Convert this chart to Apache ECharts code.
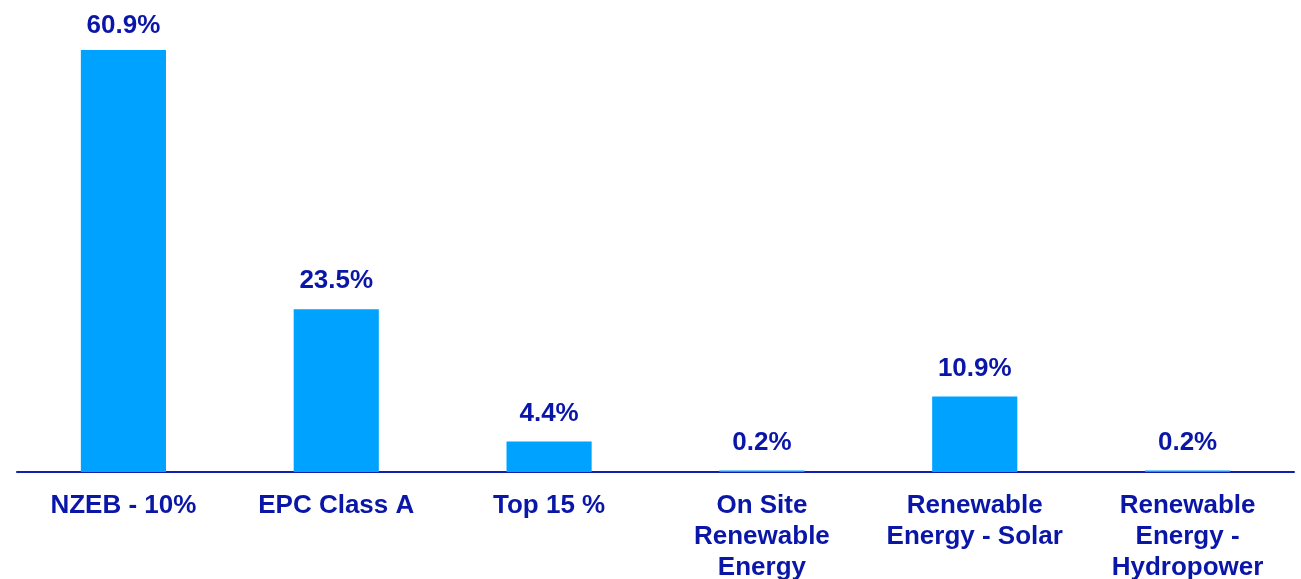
<!DOCTYPE html>
<html>
<head>
<meta charset="utf-8">
<script src="https://cdn.jsdelivr.net/npm/echarts@6/dist/echarts.min.js"></script>
<style>
html,body{margin:0;padding:0;background:#fff;}
#chart{width:1301px;height:579px;}
</style>
</head>
<body>
<div id="chart"></div>
<script>
var categories = ['NZEB - 10%', 'EPC Class A', 'Top 15 %', 'On Site\nRenewable\nEnergy', 'Renewable\nEnergy - Solar', 'Renewable\nEnergy -\nHydropower'];
var values = [60.9, 23.5, 4.4, 0.2, 10.9, 0.2];

var textColor = '#0A16A8';
var chart = echarts.init(document.getElementById('chart'));
chart.setOption({
  animation: false,
  grid: {left: 17, right: 7, top: 50, bottom: 107, containLabel: false, outerBoundsMode: 'none'},
  xAxis: {
    type: 'category',
    data: categories,
    axisLine: {lineStyle: {color: '#0F1FB0', width: 2}},
    axisTick: {show: false},
    axisLabel: {
      interval: 0,
      margin: 18,
      color: textColor,
      fontFamily: 'Liberation Sans, Arial, sans-serif',
      fontWeight: 'bold',
      fontSize: 26,
      lineHeight: 31
    }
  },
  yAxis: {
    type: 'value', min: 0, max: 60.9,
    show: false, splitLine: {show: false}
  },
  series: [{
    type: 'bar',
    data: values.map(function (v, i) {
      return i === 0 ? {value: v, label: {distance: 11}} : v;
    }),
    barWidth: '40%',
    itemStyle: {color: '#00A2FF'},
    label: {
      show: true,
      position: 'top',
      distance: 15,
      color: textColor,
      fontFamily: 'Liberation Sans, Arial, sans-serif',
      fontWeight: 'bold',
      fontSize: 26,
      formatter: function (p) { return p.value.toFixed(1) + '%'; }
    }
  }]
});
</script>
</body>
</html>
